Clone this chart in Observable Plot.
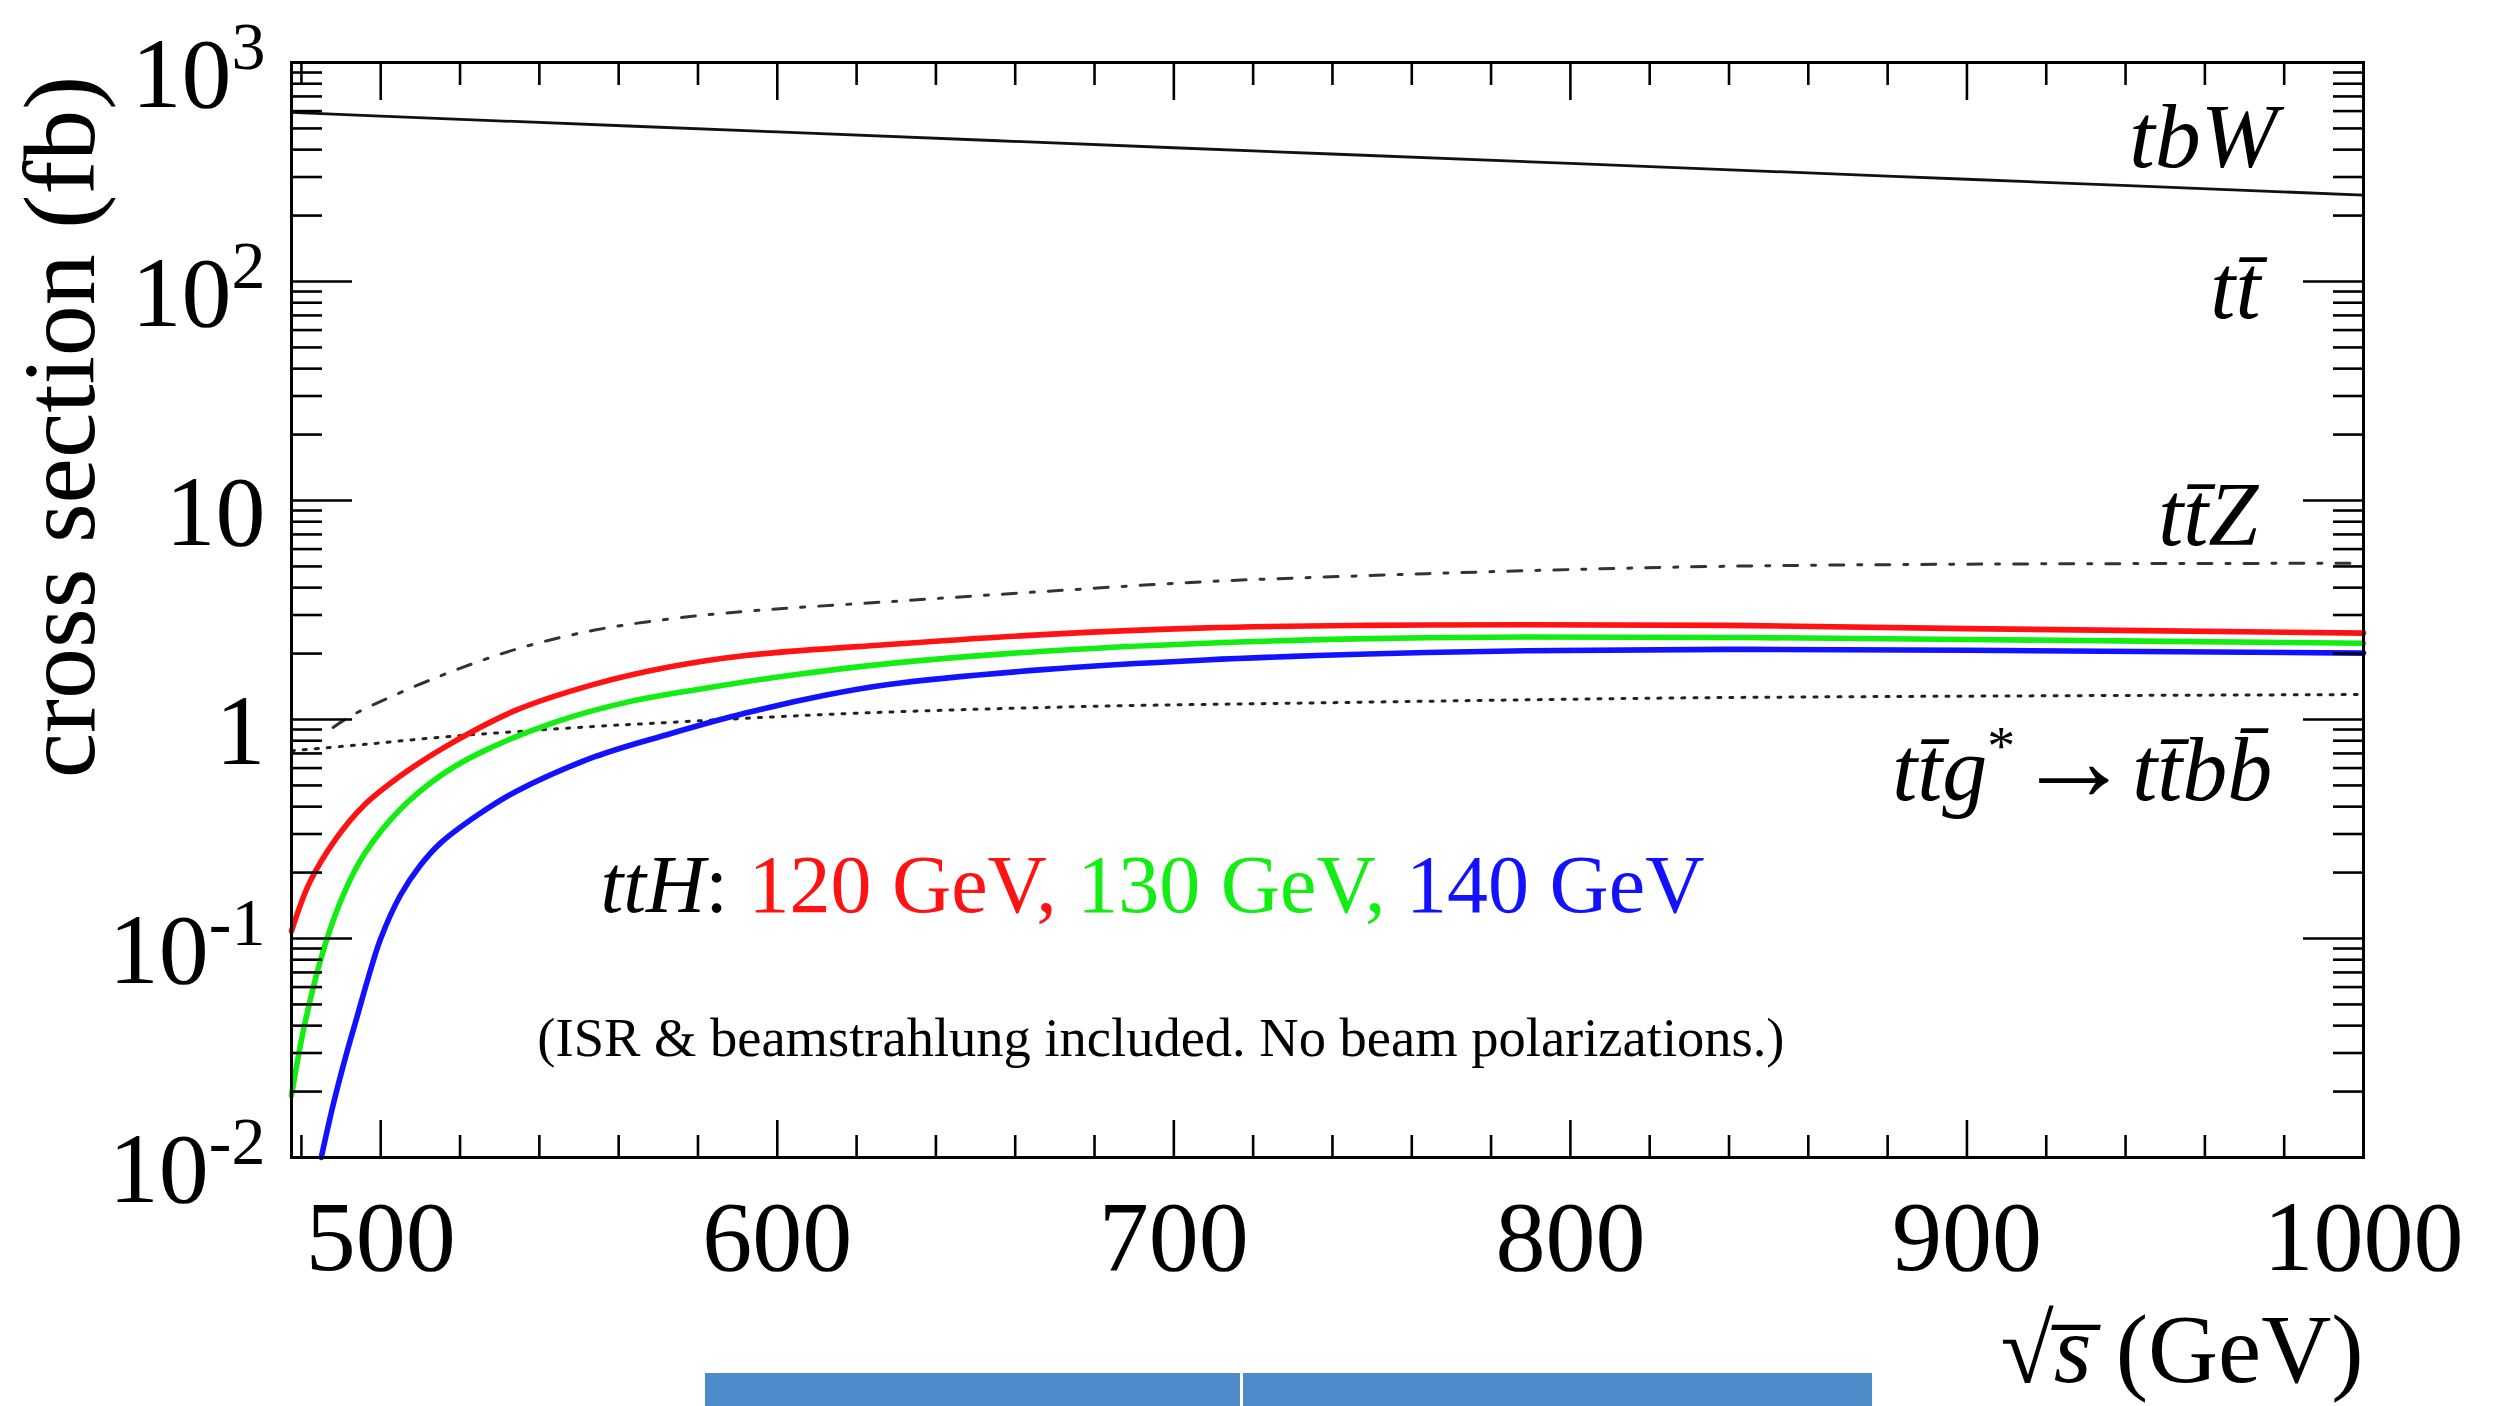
<!DOCTYPE html>
<html>
<head>
<meta charset="utf-8">
<title>Cross sections vs sqrt(s)</title>
<script src="https://cdn.jsdelivr.net/npm/d3@7"></script>
<script src="https://cdn.jsdelivr.net/npm/@observablehq/plot@0.6"></script>
<style>
  html, body { margin: 0; padding: 0; background: #fff; }
  #wrap { position: relative; width: 2493px; height: 1406px; overflow: hidden; background: #fff; }
  #wrap svg { position: absolute; left: 0; top: 0; }
  .slide-tab { position: absolute; top: 1373px; height: 40px; background: #4d8bcb; }
</style>
</head>
<body>
<div id="wrap"></div>
<script>
// ---------------- data ----------------
// sqrt(s) in GeV, cross section in fb
const sqrtS_tbW  = [477.5, 500, 600, 700, 800, 900, 1000];
const sigma_tbW  = [592, 569, 482, 408, 346, 293, 248];

const sqrtS_ttZ  = [488, 491, 496, 515, 534, 554, 573, 592, 628, 667, 708, 749, 789, 837, 900, 1000];
const sigma_ttZ  = [0.92, 1.0, 1.12, 1.58, 2.09, 2.56, 2.88, 3.12, 3.45, 3.84, 4.26, 4.54, 4.78, 5.0, 5.12, 5.17];

const sqrtS_ttg  = [477.5, 496, 515, 534, 554, 573, 600, 627, 681, 735, 789, 839, 1000];
const sigma_ttg  = [0.72, 0.77, 0.83, 0.88, 0.93, 0.97, 1.03, 1.08, 1.15, 1.19, 1.23, 1.26, 1.30];

const sqrtS_ttH120 = [477.5, 482, 489, 495.5, 505, 517, 534, 554, 573, 592, 628, 667, 708, 749, 789, 839, 900, 1000];
const sigma_ttH120 = [0.108, 0.179, 0.290, 0.401, 0.553, 0.764, 1.10, 1.45, 1.74, 1.96, 2.20, 2.44, 2.62, 2.69, 2.71, 2.69, 2.60, 2.48];

const sqrtS_ttH130 = [477.5, 481, 486, 491, 496, 505, 515, 525, 544, 563, 583, 602, 628, 667, 708, 749, 789, 839, 900, 1000];
const sigma_ttH130 = [0.0192, 0.042, 0.094, 0.165, 0.245, 0.39, 0.553, 0.704, 0.973, 1.21, 1.40, 1.58, 1.80, 2.05, 2.23, 2.34, 2.38, 2.37, 2.32, 2.23];

const sqrtS_ttH140 = [485, 488, 491, 494, 497, 500, 505, 510, 515, 525, 534, 554, 573, 592, 612, 628, 667, 708, 749, 789, 839, 900, 1000];
const sigma_ttH140 = [0.01, 0.0174, 0.0282, 0.0437, 0.0676, 0.100, 0.158, 0.216, 0.272, 0.372, 0.468, 0.676, 0.861, 1.07, 1.29, 1.445, 1.69, 1.87, 1.99, 2.06, 2.09, 2.07, 2.01];

const higgsMass  = [120, 130, 140];
const higgsColor = ["#ff1212", "#12ee12", "#1212ff"];

const xTickMajor = [500, 600, 700, 800, 900, 1000];
const xTickMinor = [480, 520, 540, 560, 580, 620, 640, 660, 680, 720, 740, 760, 780, 820, 840, 860, 880, 920, 940, 960, 980];
const yTickMajor = [0.01, 0.1, 1, 10, 100, 1000];
const yTickLabel = ["10^-2", "10^-1", "1", "10", "10^2", "10^3"];
const yTickMinor = [-2, -1, 0, 1, 2].flatMap(k => [2, 3, 4, 5, 6, 7, 8, 9].map(m => m * Math.pow(10, k)));

const labelText = [
  "tbW",
  "tt\u0304",
  "tt\u0304Z",
  "tt\u0304g*\u2192tt\u0304bb\u0304",
  "ttH: 120 GeV, 130 GeV, 140 GeV",
  "(ISR & beamstrahlung included. No beam polarizations.)"
];
const labelX = [978.3, 974.0, 973.5, 977.0, 555.4, 539.5];
const labelY = [332, 67.8, 6.24, 0.427, 0.1315, 0.0292];

const xTitle = "\u221As (GeV)";
const yTitle = "cross section (fb)";

// ---------------- build rows ----------------
const rows = (xs, ys) => xs.map((x, i) => ({x, y: ys[i]}));
const tthRows = [
  ...rows(sqrtS_ttH120, sigma_ttH120).map(d => ({...d, mass: 120})),
  ...rows(sqrtS_ttH130, sigma_ttH130).map(d => ({...d, mass: 130})),
  ...rows(sqrtS_ttH140, sigma_ttH140).map(d => ({...d, mass: 140}))
];
const lbl = i => [{t: labelText[i], x: labelX[i], y: labelY[i]}];

const FONT = "'Liberation Serif', 'Times New Roman', Times, serif";
const tickStroke = 2.6;
const CURVE = "catmull-rom";

const plot = Plot.plot({
  width: 2493,
  height: 1406,
  marginLeft: 291,
  marginRight: 130,
  marginTop: 62,
  marginBottom: 249,
  style: {fontFamily: FONT, background: "transparent", color: "#000", overflow: "visible"},
  x: {type: "linear", domain: [477.5, 1000]},
  y: {type: "log", domain: [0.01, 1000]},
  color: {type: "ordinal", domain: higgsMass, range: higgsColor},
  marks: [
    Plot.line(rows(sqrtS_tbW, sigma_tbW), {x: "x", y: "y", stroke: "#111", strokeWidth: 2.8, curve: CURVE}),
    Plot.line(rows(sqrtS_ttZ, sigma_ttZ), {x: "x", y: "y", stroke: "#333", strokeWidth: 3, strokeDasharray: "14,14,4,14", curve: CURVE}),
    Plot.line(rows(sqrtS_ttg, sigma_ttg), {x: "x", y: "y", stroke: "#222", strokeWidth: 3, strokeDasharray: "3,9", curve: CURVE}),
    Plot.line(tthRows, {x: "x", y: "y", z: "mass", stroke: "mass", strokeWidth: 5.6, curve: CURVE}),

    Plot.frame({stroke: "#000", strokeWidth: 3}),

    // inward ticks on all four sides
    Plot.axisX(xTickMinor, {anchor: "bottom", tickSize: -22, strokeWidth: tickStroke, fill: "none", label: null}),
    Plot.axisX(xTickMajor, {anchor: "bottom", tickSize: -37, strokeWidth: tickStroke, fill: "none", label: null}),
    Plot.axisX(xTickMinor, {anchor: "top", tickSize: -22, strokeWidth: tickStroke, fill: "none", label: null}),
    Plot.axisX(xTickMajor, {anchor: "top", tickSize: -37, strokeWidth: tickStroke, fill: "none", label: null}),
    Plot.axisY(yTickMinor, {anchor: "left", tickSize: -31, strokeWidth: tickStroke, fill: "none", label: null}),
    Plot.axisY(yTickMajor, {anchor: "left", tickSize: -61, strokeWidth: tickStroke, fill: "none", label: null}),
    Plot.axisY(yTickMinor, {anchor: "right", tickSize: -31, strokeWidth: tickStroke, fill: "none", label: null}),
    Plot.axisY(yTickMajor, {anchor: "right", tickSize: -61, strokeWidth: tickStroke, fill: "none", label: null}),

    // tick labels
    Plot.axisX(xTickMajor, {anchor: "bottom", tickSize: 0, tickPadding: 41, fontSize: 100, label: null, tickFormat: d => String(d)}),
    Plot.axisY(yTickMajor, {anchor: "left", tickSize: 0, tickPadding: 26, fontSize: 100, dy: 12, label: null,
      tickFormat: d => yTickLabel[yTickMajor.indexOf(d)]}),

    // axis titles
    Plot.text([yTitle], {frameAnchor: "left", dx: -230, dy: -183, rotate: -90, fontSize: 102, textAnchor: "middle", lineAnchor: "middle"}),
    Plot.text([xTitle], {frameAnchor: "bottom-right", dy: 224, fontSize: 97, textAnchor: "end", lineAnchor: "bottom"}),

    // annotations
    Plot.text(lbl(0), {x: "x", y: "y", text: "t", fontSize: 92, textAnchor: "end", lineAnchor: "bottom"}),
    Plot.text(lbl(1), {x: "x", y: "y", text: "t", fontSize: 90, textAnchor: "end", lineAnchor: "bottom"}),
    Plot.text(lbl(2), {x: "x", y: "y", text: "t", fontSize: 90, textAnchor: "end", lineAnchor: "bottom"}),
    Plot.text(lbl(3), {x: "x", y: "y", text: "t", fontSize: 90, textAnchor: "end", lineAnchor: "bottom"}),
    Plot.text(lbl(4), {x: "x", y: "y", text: "t", fontSize: 82, textAnchor: "start", lineAnchor: "bottom"}),
    Plot.text(lbl(5), {x: "x", y: "y", text: "t", fontSize: 54.5, textAnchor: "start", lineAnchor: "bottom"})
  ]
});

// ---------------- rich text (italics, bars, superscripts, colours) ----------------
const it = s => `<tspan font-style="italic">${s}</tspan>`;
const bar = s => `<tspan font-style="italic">${s}\u0304</tspan>`;
const rich = {
  [labelText[0]]: it("tbW"),
  [labelText[1]]: it("t") + bar("t"),
  [labelText[2]]: it("t") + bar("t") + it("Z"),
  [labelText[3]]: it("t") + bar("t") + it("g") + `<tspan dy="-36" font-size="62%">*</tspan>` +
                  `<tspan dy="36" font-size="130%" font-weight="bold">\u2192</tspan>` + it("t") + bar("t") + it("b") + bar("b"),
  [labelText[4]]: it("ttH") + ": " +
                  `<tspan fill="${higgsColor[0]}">120 GeV, </tspan>` +
                  `<tspan fill="${higgsColor[1]}">130 GeV, </tspan>` +
                  `<tspan fill="${higgsColor[2]}">140 GeV</tspan>`,
  [xTitle]: "\u221A" + `<tspan font-style="italic">s\u0305</tspan>` + " (GeV)"
};
plot.querySelectorAll("text").forEach(t => {
  const s = t.textContent;
  if (rich[s] !== undefined) { t.innerHTML = rich[s]; return; }
  const m = /^10\^(-?\d)$/.exec(s);
  if (m) t.innerHTML = `10<tspan dy="-38" font-size="68%">${m[1]}</tspan>`;
});

const wrap = document.getElementById("wrap");
wrap.appendChild(plot);

// partial slide element visible at the bottom edge of the reference image
[[705, 535], [1243, 629]].forEach(([left, w]) => {
  const d = document.createElement("div");
  d.className = "slide-tab";
  d.style.left = left + "px";
  d.style.width = w + "px";
  wrap.appendChild(d);
});
</script>
</body>
</html>
